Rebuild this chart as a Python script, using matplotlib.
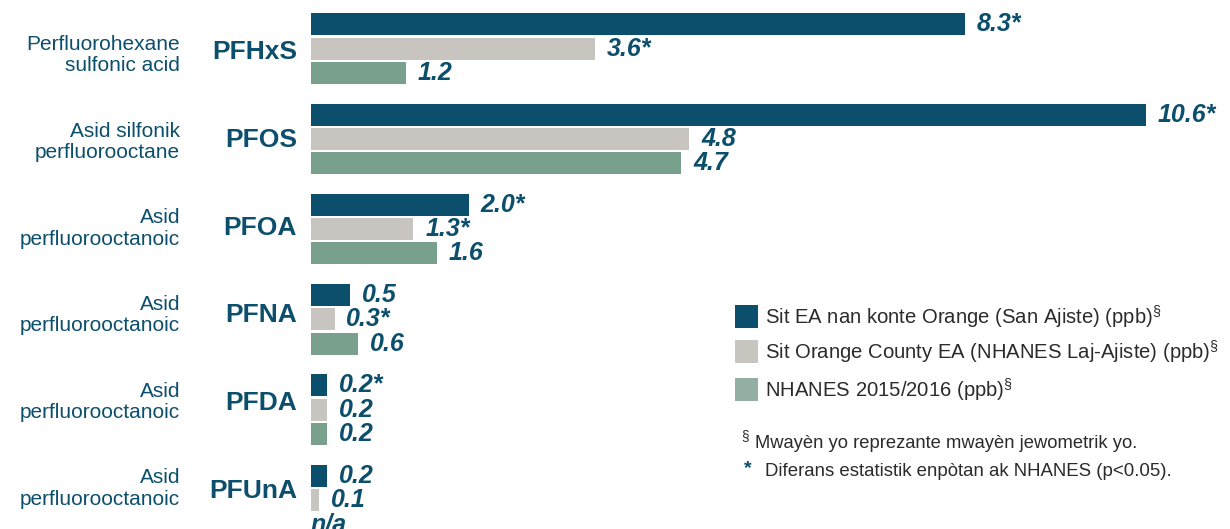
import matplotlib.pyplot as plt
import numpy as np

plt.rcParams['font.family'] = ['Liberation Sans', 'DejaVu Sans']
plt.rcParams['mathtext.fontset'] = 'custom'
plt.rcParams['mathtext.rm'] = 'Liberation Sans'

# chemicals, top to bottom
codes = ["PFHxS", "PFOS", "PFOA", "PFNA", "PFDA", "PFUnA"]
names = ["Perfluorohexane\nsulfonic acid", "Asid silfonik\nperfluorooctane",
         "Asid\nperfluorooctanoic", "Asid\nperfluorooctanoic",
         "Asid\nperfluorooctanoic", "Asid\nperfluorooctanoic"]

# geometric means (ppb); None = not available
orange_ea = [8.3, 10.6, 2.0, 0.5, 0.2, 0.2]
orange_nhanes = [3.6, 4.8, 1.3, 0.3, 0.2, 0.1]
nhanes = [1.2, 4.7, 1.6, 0.6, 0.2, None]
# significant difference vs NHANES
sig_ea = [True, True, True, False, True, False]
sig_nh = [True, False, True, True, False, False]

series_labels = ["Sit EA nan konte Orange (San Ajiste) (ppb)",
                 "Sit Orange County EA (NHANES Laj-Ajiste) (ppb)",
                 "NHANES 2015/2016 (ppb)"]

dark = "#0c4f6c"
grey = "#c8c4c0"
green = "#78a08c"
txt = "#0c4f6c"
ink = "#2b2b2b"

W, H = 1230, 529
fig = plt.figure(figsize=(W / 100, H / 100), dpi=100)
ax = fig.add_axes([0, 0, 1, 1])

# pixel layout: bars start at x=311, 78.8 px per ppb, groups 90.3 px apart
x0, ppu = 311, 78.8
ax.set_xlim(-x0 / ppu, (W - x0) / ppu)
y_first, pitch = 48.5, 90.3
ax.set_ylim((H - y_first) / pitch, -y_first / pitch)
ax.axis("off")

bh = 22 / pitch
step = 24.3 / pitch
pos = np.arange(len(codes))

series = [(orange_ea, dark, sig_ea), (orange_nhanes, grey, sig_nh), (nhanes, green, None)]
for k, (vals, col, sig) in enumerate(series):
    yy = pos + (k - 1) * step
    for i, v in enumerate(vals):
        if v is None:
            ax.annotate("n/a", (0, yy[i]), xytext=(0, 0), textcoords="offset points",
                        ha="left", va="center", fontsize=18, fontweight="bold",
                        fontstyle="italic", color=txt)
            continue
        ax.barh(yy[i], v, height=bh, color=col, linewidth=0)
        lab = f"{v:.1f}" + ("*" if sig is not None and sig[i] else "")
        ax.annotate(lab, (v, yy[i]), xytext=(8.5, 0), textcoords="offset points",
                    ha="left", va="center", fontsize=18, fontweight="bold",
                    fontstyle="italic", color=txt)

# row labels sit a little tighter than the bar groups
for i in range(len(codes)):
    yc = 52 + 87.8 * i
    fig.text(297 / W, 1 - yc / H, codes[i], ha="right", va="center",
             fontsize=19, fontweight="bold", color=txt)
    yd = 55 + 86.7 * i
    fig.text(180 / W, 1 - yd / H, names[i], ha="right", va="center",
             fontsize=15, color=txt, multialignment="right", linespacing=1.15)

# legend
leg_cols = [dark, grey, "#93aea3"]
leg_y = [317, 352, 390]
for col, lab, yc in zip(leg_cols, series_labels, leg_y):
    fig.patches.append(plt.Rectangle((735 / W, 1 - (yc + 11) / H), 23 / W, 23 / H,
                                     transform=fig.transFigure, color=col, linewidth=0))
    fig.text(765 / W, 1 - yc / H, lab + r"$^{\S}$", ha="left", va="center",
             fontsize=14.6, color=ink)

fig.text(741 / W, 1 - 440 / H, r"$^{\S}$", ha="left", va="center", fontsize=14, color=ink)
fig.text(755 / W, 1 - 443 / H, "Mwayèn yo reprezante mwayèn jewometrik yo.",
         ha="left", va="center", fontsize=13.2, color=ink)
fig.text(744 / W, 1 - 469 / H, "*", ha="left", va="center", fontsize=14,
         fontweight="bold", color=txt)
fig.text(765 / W, 1 - 472 / H, "Diferans estatistik enpòtan ak NHANES (p<0.05).",
         ha="left", va="center", fontsize=13.4, color=ink)

fig.savefig("out.png", dpi=100)
